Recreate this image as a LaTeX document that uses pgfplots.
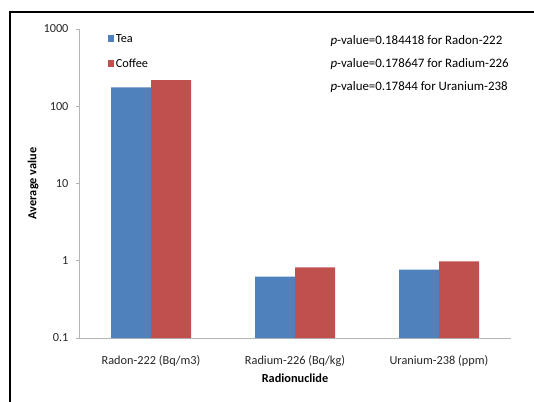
\documentclass[border=0pt]{standalone}
\usepackage{pgfplots}
\pgfplotsset{compat=1.18}
\usepackage{fontspec}
\setmainfont{Carlito}
\definecolor{teablue}{RGB}{79,129,189}
\definecolor{coffeered}{RGB}{192,80,77}
\definecolor{axgray}{RGB}{180,180,180}
\pgfplotsset{sqlegend/.style={legend image code/.code={\fill[##1,draw=none] (0pt,-3.5pt) rectangle (6pt,3.5pt);}}}
\begin{document}
\begin{tikzpicture}[x=1pt,y=1pt]
\useasboundingbox (0,0) rectangle (534,401);
\draw[line width=2.5pt] (10,-20) -- (10,389) -- (560,389);
\begin{axis}[
  at={(79pt,63pt)}, anchor=south west,
  scale only axis, width=432pt, height=309pt,
  ymode=log, ymin=0.1, ymax=1000, log origin=infty,
  xmin=-0.5, xmax=2.5,
  xtick={0,1,2},
  xticklabels={Radon-222 (Bq/m3), Radium-226 (Bq/kg), Uranium-238 (ppm)},
  ytick={0.1,1,10,100,1000}, yticklabels={0.1,1,10,100,1000},
  yminorticks=false,
  axis x line*=bottom, axis y line*=left,
  axis line style={axgray, line width=1pt},
  x tick style={draw=none}, y tick style={axgray, line width=0.8pt},
  tick align=outside, major tick length=3pt,
  ybar=0pt, bar width=40pt,
  tick label style={font=\fontsize{12.3}{14}\selectfont, text=black!85},
  yticklabel style={xshift=-4pt},
  xticklabel style={yshift=-11pt},
  xlabel={\textbf{Radionuclide}}, ylabel={\textbf{Average value}},
  label style={font=\fontsize{12.3}{14}\selectfont},
  xlabel style={at={(axis description cs:0.5,0)}, anchor=center, yshift=-40pt},
  ylabel style={at={(axis description cs:-0.106,0.5)}, anchor=center},
  legend style={at={(axis description cs:0.0665,0.99)}, anchor=north west, draw=none, fill=none,
    font=\fontsize{12.3}{14}\selectfont, row sep=11pt, inner sep=0pt},
  legend cell align=left,
]
\addplot[fill=teablue, draw=none, sqlegend] coordinates {(0,176) (1,0.625) (2,0.77)};
\addplot[fill=coffeered, draw=none, sqlegend] coordinates {(0,218) (1,0.82) (2,0.98)};
\legend{Tea, Coffee}
\end{axis}
\node[anchor=west, font=\fontsize{12.9}{15}\selectfont] at (327,360) {\textit{p}-value=0.184418 for Radon-222};
\node[anchor=west, font=\fontsize{12.9}{15}\selectfont] at (327,337) {\textit{p}-value=0.178647 for Radium-226};
\node[anchor=west, font=\fontsize{12.9}{15}\selectfont] at (327,314) {\textit{p}-value=0.17844 for Uranium-238};
\end{tikzpicture}
\end{document}
